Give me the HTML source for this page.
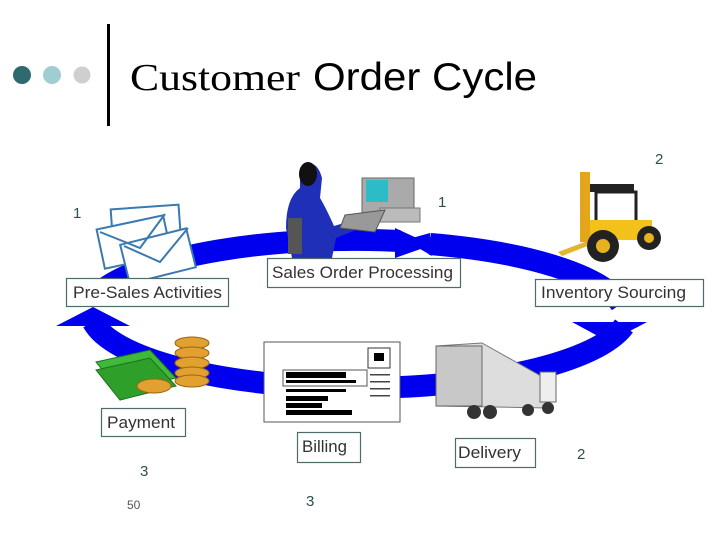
<!DOCTYPE html>
<html><head><meta charset="utf-8"><style>
body{margin:0;background:#fff;}
svg{display:block;}
.lbl{font-family:"Liberation Sans",sans-serif;font-size:16.5px;fill:#333;}
.num{font-family:"Liberation Sans",sans-serif;font-size:15px;fill:#2f4f4f;}
</style></head><body>
<svg width="720" height="540" viewBox="0 0 720 540" xmlns="http://www.w3.org/2000/svg">
<circle cx="22" cy="75" r="9" fill="#2f6a6f"/>
<circle cx="52" cy="75" r="9" fill="#a0cdd2"/>
<circle cx="82" cy="75" r="8.5" fill="#cfcfcf"/>
<rect x="107" y="24" width="3" height="102" fill="#000"/>
<text x="130" y="90" font-family="Liberation Serif,serif" font-size="38" fill="#000" textLength="170" lengthAdjust="spacingAndGlyphs">Customer</text>
<text x="313" y="90" font-family="Liberation Sans,sans-serif" font-size="39" fill="#000" textLength="224" lengthAdjust="spacingAndGlyphs">Order Cycle</text>

<g fill="none" stroke="#0000ee" stroke-width="22">
<path d="M101,291 A270,78 0 0 1 400,241"/>
<path d="M430,244 A270,78 0 0 1 621,304"/>
<path d="M624,326 A270,78 0 0 1 93,322"/>
</g>
<g fill="#0000ee">
<polygon points="395,228 432,245 395,258"/>
<polygon points="405,240 430,233 432,256"/>
<polygon points="572,322 647,322 609,342"/>
<polygon points="56,326 130,326 93,307"/>
</g>

<!-- envelopes -->
<g stroke="#3a7ab0" stroke-width="2" fill="#fff">
<rect x="112" y="207" width="68" height="40" transform="rotate(-4 146 227)"/>
<rect x="100" y="222" width="68" height="40" transform="rotate(-12 134 242)"/>
<rect x="124" y="236" width="68" height="40" transform="rotate(-14 158 256)"/>
<path d="M100,232 L140,248 L165,214 M124,246 L160,262 L188,228" fill="none"/>
</g>

<!-- person + computer -->
<path d="M300,168 q16,-12 22,10 l-2,20 q6,10 14,28 l20,-6 l2,10 l-20,8 l-4,20 l-40,0 l-6,-30 q0,-30 14,-40z" fill="#1f2fb8"/>
<ellipse cx="308" cy="174" rx="9" ry="12" fill="#111"/>
<rect x="288" y="218" width="14" height="36" fill="#555"/>
<rect x="362" y="178" width="52" height="38" fill="#aaa" stroke="#666"/>
<rect x="366" y="180" width="22" height="22" fill="#2bbcc8"/>
<rect x="380" y="208" width="40" height="14" fill="#bbb" stroke="#777"/>
<polygon points="345,215 385,210 375,232 340,228" fill="#999" stroke="#555"/>

<!-- forklift -->
<rect x="580" y="172" width="10" height="70" fill="#e3a51a"/>
<rect x="590" y="184" width="44" height="8" fill="#222"/>
<rect x="596" y="192" width="40" height="40" fill="none" stroke="#222" stroke-width="3"/>
<rect x="590" y="220" width="62" height="20" fill="#f2c21b"/>
<path d="M558,252 L590,240 L590,245 L562,256z" fill="#e3b52a"/>
<circle cx="603" cy="246" r="16" fill="#222"/><circle cx="603" cy="246" r="7" fill="#e6b21f"/>
<circle cx="649" cy="238" r="12" fill="#222"/><circle cx="649" cy="238" r="5" fill="#e6b21f"/>

<!-- money -->
<polygon points="96,362 150,350 176,378 120,392" fill="#3fb93a" stroke="#1e6f1e"/>
<polygon points="96,370 150,358 176,386 120,400" fill="#2ea02a" stroke="#1e6f1e"/>
<g fill="#e2a030" stroke="#9a6410">
<ellipse cx="192" cy="343" rx="17" ry="6"/><ellipse cx="192" cy="353" rx="17" ry="6"/>
<ellipse cx="192" cy="363" rx="17" ry="6"/><ellipse cx="192" cy="373" rx="17" ry="6"/>
<ellipse cx="192" cy="381" rx="17" ry="6"/><ellipse cx="154" cy="386" rx="17" ry="7"/>
</g>

<!-- billing document -->
<rect x="264" y="342" width="136" height="80" fill="#fff" stroke="#555"/>
<rect x="283" y="370" width="84" height="16" fill="none" stroke="#555"/>
<rect x="286" y="372" width="60" height="6" fill="#000"/>
<rect x="286" y="380" width="70" height="3" fill="#000"/>
<rect x="286" y="389" width="60" height="3" fill="#000"/>
<rect x="286" y="396" width="42" height="5" fill="#000"/>
<rect x="286" y="403" width="36" height="5" fill="#000"/>
<rect x="286" y="410" width="66" height="5" fill="#000"/>
<rect x="368" y="348" width="22" height="20" fill="#fff" stroke="#333"/>
<rect x="374" y="353" width="10" height="8" fill="#000"/>
<g fill="#444"><rect x="370" y="374" width="20" height="1.5"/><rect x="370" y="381" width="20" height="1.5"/><rect x="370" y="388" width="20" height="1.5"/><rect x="370" y="395" width="20" height="1.5"/></g>

<!-- truck -->
<polygon points="436,346 482,343 548,380 548,408 436,406" fill="#ddd" stroke="#777"/>
<rect x="436" y="346" width="46" height="60" fill="#c8c8c8" stroke="#666"/>
<rect x="540" y="372" width="16" height="30" fill="#eee" stroke="#666"/>
<circle cx="474" cy="412" r="7" fill="#333"/><circle cx="490" cy="412" r="7" fill="#333"/>
<circle cx="528" cy="410" r="6" fill="#333"/><circle cx="548" cy="408" r="6" fill="#333"/>

<!-- labels -->
<g fill="#fff" stroke="#4f6a6a" stroke-width="1.2">
<rect x="66.5" y="278.5" width="162" height="28"/>
<rect x="267.5" y="258.5" width="193" height="29"/>
<rect x="535.5" y="279.5" width="168" height="27"/>
<rect x="101.5" y="408.5" width="84" height="28"/>
<rect x="297.5" y="432.5" width="63" height="30"/>
<rect x="455.5" y="438.5" width="80" height="29"/>
</g>
<text class="lbl" x="73" y="298" textLength="149" lengthAdjust="spacingAndGlyphs">Pre-Sales Activities</text>
<text class="lbl" x="272" y="278" textLength="181" lengthAdjust="spacingAndGlyphs">Sales Order Processing</text>
<text class="lbl" x="541" y="298" textLength="145" lengthAdjust="spacingAndGlyphs">Inventory Sourcing</text>
<text class="lbl" x="107" y="428" textLength="68" lengthAdjust="spacingAndGlyphs">Payment</text>
<text class="lbl" x="302" y="452" textLength="45" lengthAdjust="spacingAndGlyphs">Billing</text>
<text class="lbl" x="458" y="458" textLength="63" lengthAdjust="spacingAndGlyphs">Delivery</text>

<text class="num" x="655" y="164">2</text>
<text class="num" x="438" y="207">1</text>
<text class="num" x="73" y="218">1</text>
<text class="num" x="577" y="459">2</text>
<text class="num" x="140" y="476">3</text>
<text class="num" x="306" y="506">3</text>
<text x="127" y="509" font-family="Liberation Sans,sans-serif" font-size="12" fill="#555">50</text>
</svg>
</body></html>
